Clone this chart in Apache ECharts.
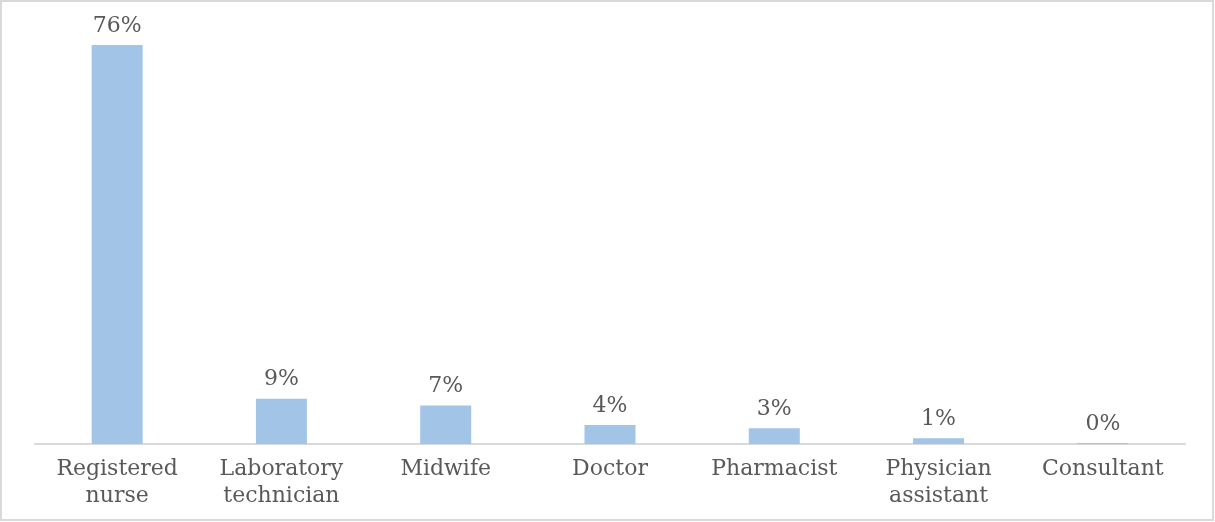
<!DOCTYPE html>
<html>
<head>
<meta charset="utf-8">
<script src="https://cdn.jsdelivr.net/npm/echarts@6/dist/echarts.min.js"></script>
<style>
html,body{margin:0;padding:0;background:#fff;}
#chart{width:1215px;height:522px;}
</style>
</head>
<body>
<div id="chart"></div>
<script>
const categories = ['Registered\nnurse', 'Laboratory\ntechnician', 'Midwife', 'Doctor', 'Pharmacist', 'Physician\nassistant', 'Consultant'];
const shares = [75.8, 8.6, 7.3, 3.6, 3.0, 1.1, 0.2];

const chart = echarts.init(document.getElementById('chart'));
const font = 'DejaVu Serif';
chart.setOption({
  animation: false,
  graphic: [{
    type: 'rect', silent: true,
    shape: {x: 1, y: 1, width: 1212, height: 519},
    style: {fill: 'none', stroke: '#d9d9d9', lineWidth: 2}
  }],
  grid: {left: 35, right: 30, top: 23, bottom: 78},
  xAxis: {
    type: 'category',
    data: categories,
    axisLine: {lineStyle: {color: '#d9d9d9', width: 2}},
    axisTick: {show: false},
    axisLabel: {interval: 0, margin: 12, color: '#595959', fontFamily: font, fontSize: 22, lineHeight: 27}
  },
  yAxis: {type: 'value', min: 0, max: 80, show: false, splitLine: {show: false}},
  series: [{
    type: 'bar',
    data: shares,
    barWidth: 51,
    itemStyle: {color: '#a2c4e7'},
    label: {
      show: true, position: 'top', distance: 8,
      color: '#595959', fontFamily: font, fontSize: 22,
      formatter: p => Math.round(p.value) + '%'
    }
  }]
});
</script>
</body>
</html>
